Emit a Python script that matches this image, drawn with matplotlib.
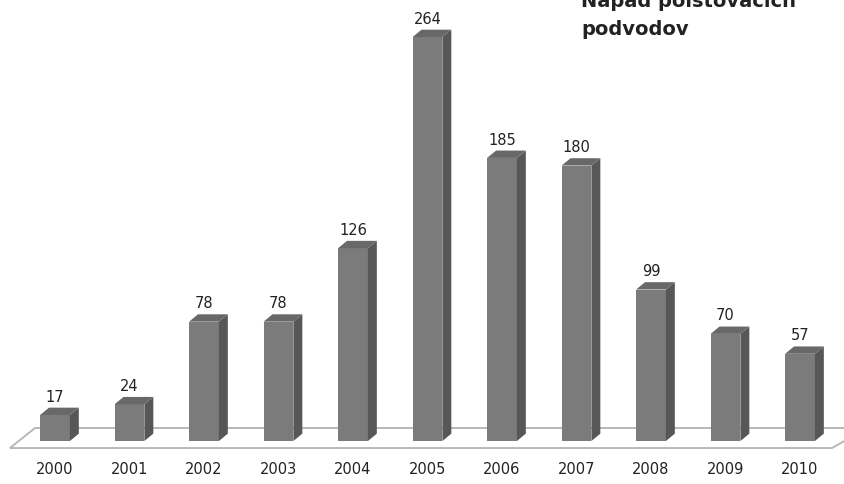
import matplotlib
matplotlib.use("Agg")
import matplotlib.pyplot as plt
from matplotlib.patches import Polygon

# ─── Data ─────────────────────────────────────────────────────────────────────
years = ["2000", "2001", "2002", "2003", "2004", "2005",
         "2006", "2007", "2008", "2009", "2010"]
cases = [17, 24, 78, 78, 126, 264, 185, 180, 99, 70, 57]
title_lines = ["Nápad poisťovacích", "podvodov"]

FRONT = "#7b7b7b"
SIDE = "#575757"
TOP = "#686868"

fig = plt.figure(figsize=(8.45, 4.84), dpi=100)
fig.patch.set_facecolor("white")
ax = fig.add_axes([0, 0, 1, 1])
ax.set_xlim(-0.738, 10.604)
ax.set_ylim(-28.1, 288.2)
ax.axis("off")

# floor
floor = Polygon([(-0.268, 8.5), (10.90, 8.5), (10.43, -4.6), (-0.604, -4.6)],
                closed=True, facecolor="white", edgecolor="#b8b8b8", lw=1.4,
                zorder=1)
ax.add_patch(floor)

w = 0.4
dx, dy = 0.12, 4.8
for i, v in enumerate(cases):
    x0, x1 = i - w / 2, i + w / 2
    ax.bar(i, v, width=w, color=FRONT, edgecolor="none", zorder=3)
    ax.add_patch(Polygon([(x1, 0), (x1 + dx, dy), (x1 + dx, v + dy), (x1, v)],
                         closed=True, facecolor=SIDE, edgecolor="none",
                         zorder=3))
    ax.add_patch(Polygon([(x0, v), (x0 + dx, v + dy), (x1 + dx, v + dy), (x1, v)],
                         closed=True, facecolor=TOP, edgecolor="none",
                         zorder=3))
    ax.text(i, v + dy + 2.0, str(v), ha="center", va="bottom",
            fontsize=10.5, color="#222222", zorder=4)
    ax.text(i, -18.8, years[i], ha="center", va="center",
            fontsize=10.5, color="#222222")

# title sits partly above the top edge, as in the source
fig.text(0.688, 0.985, title_lines[0], ha="left", va="baseline",
         fontsize=14, fontweight="bold", family="DejaVu Sans", color="#222222")
fig.text(0.688, 0.928, title_lines[1], ha="left", va="baseline",
         fontsize=14, fontweight="bold", family="DejaVu Sans", color="#222222")

fig.savefig("out.png", dpi=100, facecolor="white")
